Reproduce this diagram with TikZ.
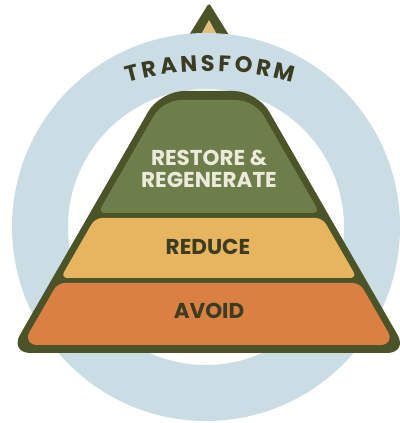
\documentclass[tikz,border=0pt]{standalone}
\usepackage{fontspec}
\setmainfont{Poppins}
\definecolor{ringblue}{HTML}{CADCE4}
\definecolor{pyrdark}{HTML}{4B5428}
\definecolor{layergreen}{HTML}{6E7E4A}
\definecolor{layeryellow}{HTML}{E7B55F}
\definecolor{layerorange}{HTML}{D98042}
\definecolor{tipsand}{HTML}{E2BF7C}
\definecolor{textdark}{HTML}{3B3C22}
\definecolor{textlight}{HTML}{ECEADB}

\begin{document}
\begin{tikzpicture}[x=0.025cm, y=0.025cm, every node/.style={font=\bfseries\fontsize{15.3pt}{15.6pt}\selectfont, align=center, inner sep=0pt}]
    \useasboundingbox (0,0) rectangle (400,423);
    \clip (0,0) rectangle (400,423);
    % tip on top of the ring
    \fill[pyrdark, rounded corners=2pt] (186,383) -- (209,420) -- (232,383) -- cycle;
    \fill[tipsand] (198,383) -- (209,403) -- (220,383) -- cycle;
    % ring
    \coordinate (centre) at (206,196);
    \fill[ringblue, even odd rule] (centre) circle (194) (centre) circle (138);
    % pyramid
    \fill[pyrdark] (208.8,70) [rounded corners=15pt] -- (408,70) -- (332.6,201) [rounded corners=17pt] -- (257.3,332) -- (160.1,332) -- (84.8,201) [rounded corners=15pt] -- (9.5,70) -- cycle;
    \fill[layergreen] (208.8,210) [rounded corners=5pt] -- (319.7,210) -- (287.2,266.5) [rounded corners=13pt] -- (254.7,323) -- (162.9,323) -- (130.4,266.5) [rounded corners=5pt] -- (98,210) -- cycle;
    \fill[layeryellow, rounded corners=5pt] (95.1,205) -- (322.5,205) -- (357,145) -- (60.6,145) -- cycle;
    \fill[layerorange] (208.8,140) [rounded corners=5pt] -- (359.9,140) -- (377.7,109) [rounded corners=11pt] -- (395.6,78) -- (22,78) -- (39.9,109) [rounded corners=5pt] -- (57.7,140) -- cycle;
    % labels
    \node[text=textlight] (restore) at (209,254) {RESTORE \&\\REGENERATE};
    \node[text=textdark] (reduce) at (208,176) {REDUCE};
    \node[text=textdark] (avoid) at (209,112) {AVOID};
    \foreach \ch/\a [count=\i] in {T/14.5, R/11.3, A/7.7, N/3.9, S/0.4, F/-2.7, O/-6.2, R/-9.9, M/-13.9}
        \node[font=\bfseries\fontsize{16pt}{17pt}\selectfont, text=textdark, anchor=base, rotate=\a]
            (letter\i) at ({210+304*cos(90+\a)},{48+304*sin(90+\a)}) {\ch};
\end{tikzpicture}
\end{document}
